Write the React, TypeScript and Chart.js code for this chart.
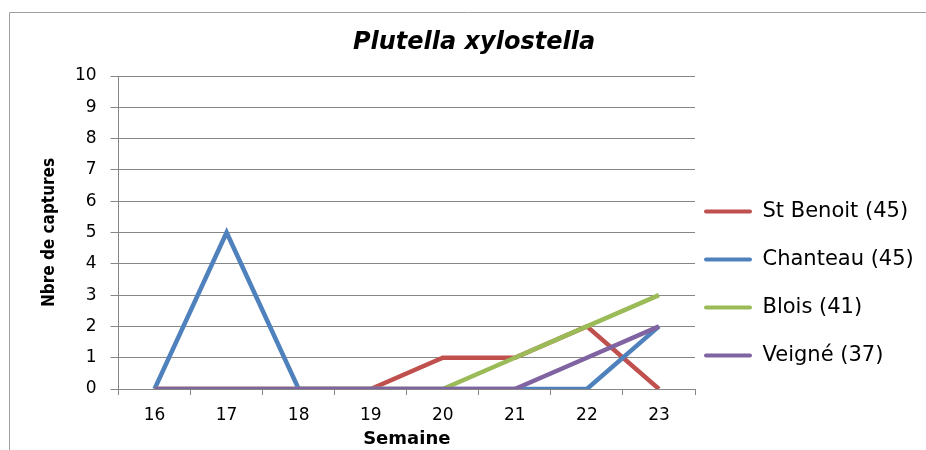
import React, { useEffect, useRef } from "react";
import { Chart, registerables } from "chart.js";

Chart.register(...registerables);

const weeks = ["16", "17", "18", "19", "20", "21", "22", "23"];
const stBenoit = [0, 0, 0, 0, 1, 1, 2, 0];
const chanteau = [0, 5, 0, 0, 0, 0, 0, 2];
const blois = [0, 0, 0, 0, 0, 1, 2, 3];
const veigne = [0, 0, 0, 0, 0, 0, 1, 2];
const seriesNames = ["St Benoit (45)", "Chanteau (45)", "Blois (41)", "Veigné (37)"];
const seriesColors = ["#C0504D", "#4F81BD", "#9BBB59", "#8064A2"];
const yTicks = [0, 1, 2, 3, 4, 5, 6, 7, 8, 9, 10];

const FONT = '"DejaVu Sans", Verdana, sans-serif';
const COND = '"DejaVu Sans Condensed", "Liberation Sans Narrow", "DejaVu Sans", sans-serif';
const GRID = "#868686";
const LEGEND_W = 223;

const framePlugin = {
  id: "frame",
  beforeLayout(chart: any) {
    const lg = chart.legend;
    if (lg && !lg.__patched) {
      const orig = lg.fit;
      lg.fit = function () {
        orig.call(this);
        this.width = LEGEND_W;
      };
      lg.__patched = true;
    }
  },
  beforeDraw(chart: any) {
    const ctx = chart.ctx;
    ctx.save();
    ctx.strokeStyle = "#a0a0a0";
    ctx.lineWidth = 1;
    ctx.beginPath();
    ctx.moveTo(9.5, 450);
    ctx.lineTo(9.5, 12.5);
    ctx.lineTo(926, 12.5);
    ctx.stroke();
    ctx.restore();
  },
};

export default function App() {
  const ref = useRef<HTMLCanvasElement | null>(null);
  useEffect(() => {
    if (!ref.current) return;
    const values = [stBenoit, chanteau, blois, veigne];
    const chart = new Chart(ref.current, {
      type: "line",
      data: {
        labels: weeks,
        datasets: values.map((v, i) => ({
          label: seriesNames[i],
          data: v,
          borderColor: seriesColors[i],
          backgroundColor: seriesColors[i],
          borderWidth: 4.5,
          pointRadius: 0,
          pointHoverRadius: 0,
          tension: 0,
          fill: false,
          order: values.length - 1 - i,
        })),
      },
      options: {
        responsive: false,
        animation: false,
        layout: { padding: { left: 30, right: 8, top: 0, bottom: 0 } },
        plugins: {
          tooltip: { enabled: false },
          title: {
            display: true,
            text: "Plutella xylostella",
            color: "#000",
            font: { family: FONT, size: 24, weight: "bold", style: "italic", lineHeight: 1.2 },
            padding: { top: 28.6, bottom: 18.6 },
          },
          legend: {
            position: "right",
            align: "center",
            title: { display: true, text: " ", font: { size: 12, lineHeight: 1.2 }, padding: { top: 120.6, bottom: 0 } },
            labels: {
              color: "#000",
              font: { family: FONT, size: 21, lineHeight: "39px" },
              boxWidth: 48,
              boxHeight: 4,
              padding: 9,
              generateLabels: (c: any) =>
                c.data.datasets.map((ds: any, i: number) => ({
                  text: [ds.label],
                  fillStyle: ds.borderColor,
                  strokeStyle: ds.borderColor,
                  lineWidth: 0,
                  borderRadius: 2,
                  hidden: false,
                  datasetIndex: i,
                  fontColor: "#000",
                })),
            },
          },
        },
        scales: {
          x: {
            type: "category",
            offset: true,
            grid: { display: true, drawOnChartArea: false, offset: true, tickLength: 6, color: GRID },
            border: { display: true, color: GRID, width: 1 },
            ticks: { color: "#000", font: { family: FONT, size: 17, lineHeight: 1.2 }, padding: 10.8, maxRotation: 0 },
            title: {
              display: true,
              text: "Semaine",
              color: "#000",
              font: { family: FONT, size: 18, weight: "bold", lineHeight: 1.2 },
              padding: { top: -8.6, bottom: 0 },
            },
          },
          y: {
            min: 0,
            max: 10,
            afterBuildTicks: (s: any) => {
              s.ticks = yTicks.map((v) => ({ value: v }));
            },
            grid: { color: GRID, tickLength: 8, lineWidth: 1 },
            border: { display: true, color: GRID, width: 1 },
            ticks: { color: "#000", font: { family: FONT, size: 17, lineHeight: 1.2 }, padding: 14 },
            title: {
              display: true,
              text: "Nbre de captures",
              color: "#000",
              font: { family: COND, size: 17, weight: "bold", lineHeight: 1.2 },
              padding: { top: 9.8, bottom: 0.7 },
            },
          },
        },
      },
      plugins: [framePlugin],
    });
    return () => chart.destroy();
  }, []);
  return (
    <div style={{ position: "fixed", left: 0, top: 0, width: 926, height: 450, background: "#fff" }}>
      <canvas ref={ref} width={926} height={450} />
    </div>
  );
}
